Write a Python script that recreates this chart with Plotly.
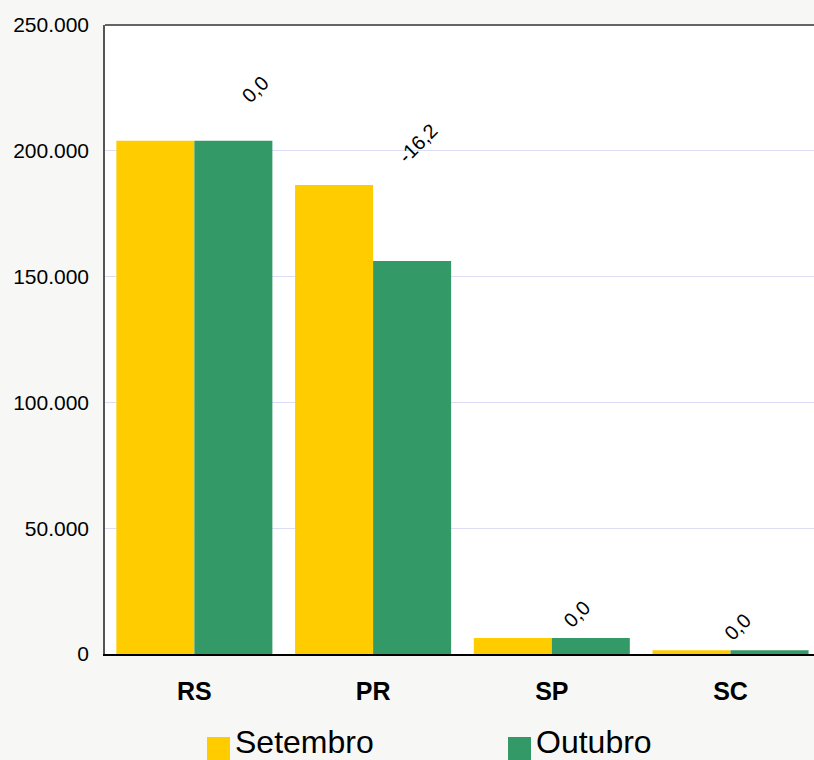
import plotly.graph_objects as go

categories = ["RS", "PR", "SP", "SC"]
setembro = [204000, 186400, 6400, 1500]
outubro = [204000, 156200, 6400, 1500]
var_labels = ["0,0", "-16,2", "0,0", "0,0"]
y_ticks = [0, 50000, 100000, 150000, 200000, 250000]
y_tick_text = ["0", "50.000", "100.000", "150.000", "200.000", "250.000"]

YELLOW = "#FFCC00"
GREEN = "#339966"
FONT = "Liberation Sans, Arial, sans-serif"

fig = go.Figure()
fig.add_trace(go.Bar(x=categories, y=setembro, name="Setembro",
                     marker=dict(color=YELLOW, line=dict(width=0)), showlegend=False))
fig.add_trace(go.Bar(x=categories, y=outubro, name="Outubro",
                     marker=dict(color=GREEN, line=dict(width=0)), showlegend=False))

# variation labels (styling offsets in pixels)
shifts = [(61, 52), (45, 42), (25, 24), (7, 23)]
annotations = []
for cat, s, o, lab, (dx, dy) in zip(categories, setembro, outubro, var_labels, shifts):
    annotations.append(dict(x=cat, y=max(s, o), xref="x", yref="y", text=lab,
                            showarrow=False, textangle=-45, xshift=dx, yshift=dy,
                            font=dict(family=FONT, size=20, color="#000000")))

# custom legend
L, R, T, B = 105, 814, 25, 654
def px(xp):
    return (xp - L) / (R - L)
def py(yp):
    return (B - yp) / (B - T)

shapes = [
    dict(type="line", xref="paper", yref="paper", x0=0, x1=1, y0=1, y1=1,
         line=dict(color="#333333", width=1.5)),
    dict(type="rect", xref="paper", yref="paper", x0=px(207), x1=px(230), y0=py(760), y1=py(737),
         fillcolor=YELLOW, line=dict(width=0)),
    dict(type="rect", xref="paper", yref="paper", x0=px(508), x1=px(531), y0=py(760), y1=py(737),
         fillcolor=GREEN, line=dict(width=0)),
]
for name, xp in (("Setembro", 233), ("Outubro", 534)):
    annotations.append(dict(x=px(xp), y=py(742), xref="paper", yref="paper", text=name,
                            showarrow=False, xanchor="left", yanchor="middle",
                            font=dict(family=FONT, size=32, color="#000000")))

fig.update_layout(
    width=814, height=760,
    margin=dict(l=L, r=0, t=T, b=760 - B, pad=0),
    paper_bgcolor="#f7f8f5", plot_bgcolor="#ffffff",
    barmode="group", bargap=0.127, bargroupgap=0,
    annotations=annotations, shapes=shapes,
    showlegend=False,
    font=dict(family=FONT, color="#000000"),
)
fig.update_xaxes(range=[-0.5, 3.467], showline=True, linecolor="#000000", linewidth=1.5,
                 showgrid=False, ticks="", ticklabelstandoff=14,
                 tickfont=dict(family=FONT, size=25, color="#000000", weight="bold"))
fig.update_yaxes(range=[0, 250000], tickvals=y_ticks, ticktext=y_tick_text,
                 showline=True, linecolor="#555555", linewidth=1.5,
                 showgrid=True, gridcolor="#dcdcf5", gridwidth=1, zeroline=False,
                 ticks="", ticklabelstandoff=10,
                 tickfont=dict(family=FONT, size=21, color="#000000"))

fig.write_html("out.html", config={"displayModeBar": False},
               post_script="document.body.style.margin='0';document.body.style.overflow='hidden';")
